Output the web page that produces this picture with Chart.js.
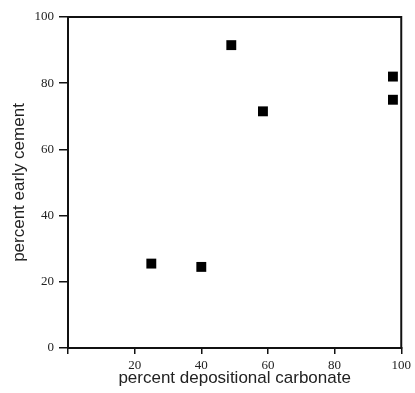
<!DOCTYPE html>
<html>
<head>
<meta charset="utf-8">
<script src="https://cdn.jsdelivr.net/npm/chart.js@4/dist/chart.umd.min.js"></script>
<style>
  html, body { margin: 0; padding: 0; background: #fff; }
  #wrap { width: 415px; height: 393px; }
</style>
</head>
<body>
<div id="wrap"><canvas id="chart"></canvas></div>
<script>
// percent depositional carbonate vs percent early cement
const carbonate = [25, 40, 49, 58.5, 97.5, 97.5];
const cement = [25.5, 24.5, 91.5, 71.5, 82, 75];
const xTicks = [0, 20, 40, 60, 80, 100];
const yTicks = [0, 20, 40, 60, 80, 100];

const points = carbonate.map((x, i) => ({ x: x, y: cement[i] }));

// draw the top and right sides of the frame
const framePlugin = {
  id: 'frame',
  afterDraw(chart) {
    const a = chart.chartArea;
    const c = chart.ctx;
    c.save();
    c.strokeStyle = '#111';
    c.lineWidth = 2;
    c.strokeRect(a.left, a.top, a.right - a.left, a.bottom - a.top);
    c.restore();
  }
};

const tickFont = { family: 'Liberation Serif', size: 13 };
const titleFont = { family: 'Liberation Sans', size: 17 };

new Chart(document.getElementById('chart'), {
  type: 'scatter',
  data: {
    datasets: [{
      data: points,
      pointStyle: 'rect',
      pointRadius: 7,
      pointHoverRadius: 7,
      backgroundColor: '#000',
      borderColor: '#000',
      borderWidth: 0
    }]
  },
  options: {
    responsive: true,
    maintainAspectRatio: false,
    animation: false,
    clip: false,
    layout: { padding: { top: 17, right: 13, left: 0, bottom: 0 } },
    plugins: { legend: { display: false }, tooltip: { enabled: false } },
    scales: {
      x: {
        type: 'linear',
        min: 0,
        max: 100,
        afterBuildTicks: s => { s.ticks = xTicks.map(v => ({ value: v })); },
        afterFit: s => { s.height = 45; },
        ticks: {
          color: '#222',
          font: tickFont,
          padding: 4,
          callback: v => (v === 0 ? '' : v)
        },
        grid: { display: true, drawOnChartArea: false, tickLength: 6, color: '#111', lineWidth: 1.5 },
        border: { display: true, color: '#111', width: 2 },
        title: { display: true, text: 'percent depositional carbonate', color: '#222', font: titleFont, padding: { top: 0 } }
      },
      y: {
        type: 'linear',
        min: 0,
        max: 100,
        afterBuildTicks: s => { s.ticks = yTicks.map(v => ({ value: v })); },
        afterFit: s => { s.width = 68; },
        ticks: { color: '#222', font: tickFont, padding: 5 },
        grid: { display: true, drawOnChartArea: false, tickLength: 9, color: '#111', lineWidth: 1.5 },
        border: { display: true, color: '#111', width: 2 },
        title: { display: true, text: 'percent early cement', color: '#222', font: titleFont, padding: { top: 9, bottom: 0 } }
      }
    }
  },
  plugins: [framePlugin]
});
</script>
</body>
</html>
